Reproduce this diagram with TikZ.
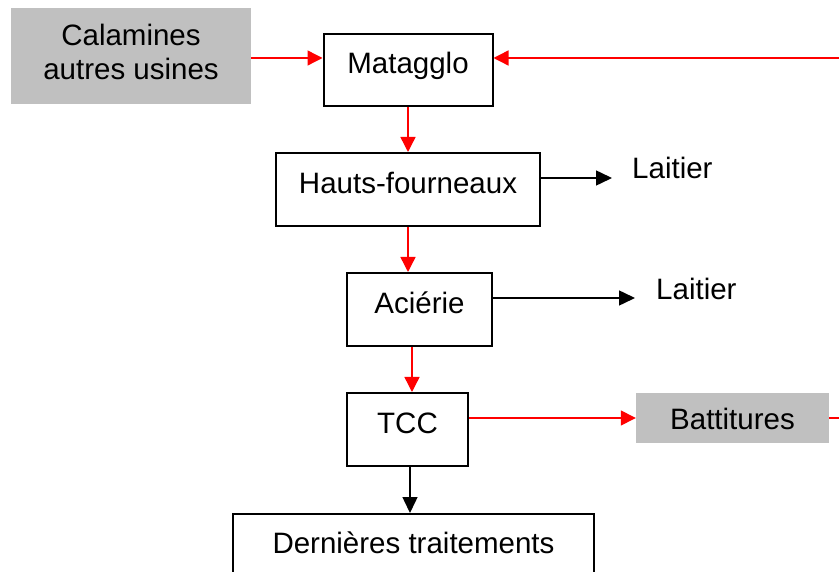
\documentclass[tikz,border=0pt]{standalone}
\usepackage{fontspec}
\setmainfont{Liberation Sans}
\usetikzlibrary{arrows.meta}
\definecolor{boxgray}{RGB}{192,192,192}
\tikzset{
  x=1pt, y=-1pt,
  every node/.style={font=\fontsize{29.5}{34}\selectfont, inner sep=0pt, text height=9pt, text depth=1pt},
  procbox/.style={draw=black, line width=2pt, fill=white, rectangle},
  graybox/.style={fill=boxgray, rectangle},
  redflow/.style={draw=red, line width=1.4pt, -{Triangle[length=15pt,width=15pt]}},
  blackflow/.style={draw=black, line width=1.5pt, -{Triangle[length=16pt,width=15pt]}},
  lbl/.style={anchor=west}
}
\begin{document}
\begin{tikzpicture}
\useasboundingbox (0,0) rectangle (839,572);
\clip (0,0) rectangle (839,572);
\fill[white] (0,0) rectangle (839,572);

\node[graybox, minimum width=240pt, minimum height=96pt] (cal) at (131,56) {};
\node[align=center, text height=, text depth=] (caltxt) at (131,52) {Calamines\\autres usines};
\node[procbox, minimum width=169pt, minimum height=72pt] (mat) at (408,70) {Matagglo};
\node[procbox, minimum width=264pt, minimum height=73pt] (hf) at (408,189.5) {Hauts-fourneaux};
\node[procbox, minimum width=145pt, minimum height=73pt] (ac) at (419.5,309.5) {Aciérie};
\node[procbox, minimum width=121pt, minimum height=73pt] (tcc) at (407.5,429.5) {TCC};
\node[graybox, minimum width=193pt, minimum height=50pt, text height=22pt, text depth=0pt] (bat) at (732.5,418) {Battitures};
\node[procbox, minimum width=361pt, minimum height=80pt, anchor=north] (der) at (413.5,513) {};
\node (dertxt) at (413.5,549) {Dernières traitements};
\node[lbl] (l1) at (632,175) {Laitier};
\node[lbl] (l2) at (656,296) {Laitier};

\coordinate (rt) at (860,0);

\draw[redflow] (cal.east |- 0,58) -- (mat.west |- 0,58);
\draw[redflow] (bat.east) -- (bat.east -| rt) |- (mat.east |- 0,58);
\draw[redflow] (mat.south) -- (mat.south |- hf.north);
\draw[blackflow] (hf.east |- 0,178) -- ([xshift=-20pt]l1.west |- 0,178);
\draw[redflow] (hf.south) -- (hf.south |- ac.north);
\draw[blackflow] (ac.east |- 0,298) -- ([xshift=-21pt]l2.west |- 0,298);
\draw[redflow] ([xshift=-7.5pt]ac.south) -- ([xshift=-7.5pt]ac.south |- tcc.north);
\draw[redflow] (tcc.east |- bat.west) -- (bat.west);
\draw[blackflow] ([xshift=2.5pt]tcc.south) -- ([xshift=2.5pt]tcc.south |- der.north);
\end{tikzpicture}
\end{document}
